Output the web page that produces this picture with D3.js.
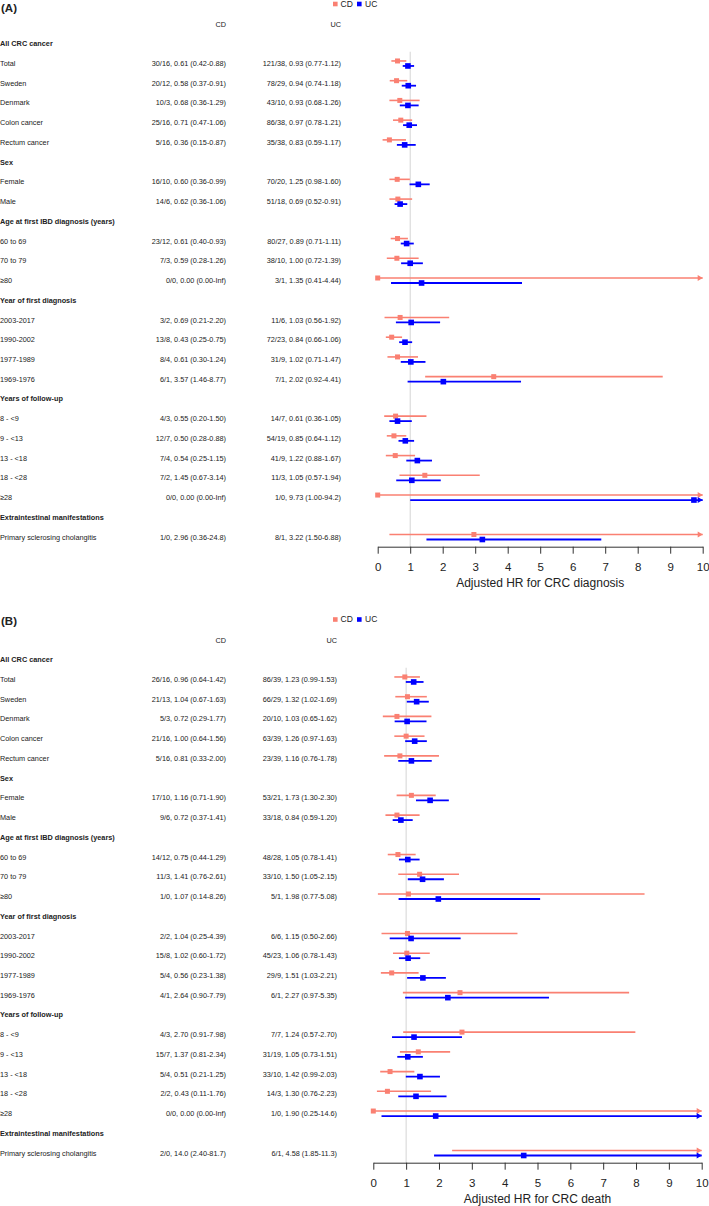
<!doctype html>
<html lang="en">
  <head>
    <meta charset="utf-8">
    <title>IBD and CRC forest plot</title>
    <script src="https://d3js.org/d3.v7.min.js"></script>
    <style>
      body { margin: 0; background: #fff; }
      text { font-family: "Liberation Sans", Arial, sans-serif; fill: #222; }
      .axis path, .axis line { stroke: #333; }
    </style>
  </head>
  <body>
    <script>

      var rowLabels = ["All CRC cancer", "Total", "Sweden", "Denmark", "Colon cancer", "Rectum cancer",
        "Sex", "Female", "Male",
        "Age at first IBD diagnosis (years)", "60 to 69", "70 to 79", "≥80",
        "Year of first diagnosis", "2003-2017", "1990-2002", "1977-1989", "1969-1976",
        "Years of follow-up", "8 - <9", "9 - <13", "13 - <18", "18 - <28", "≥28",
        "Extraintestinal manifestations", "Primary sclerosing cholangitis"];

      var headings = ["All CRC cancer", "Sex", "Age at first IBD diagnosis (years)",
        "Year of first diagnosis", "Years of follow-up", "Extraintestinal manifestations"];

      var xTicks = [0, 1, 2, 3, 4, 5, 6, 7, 8, 9, 10];

      // [events, HR, lower, upper]
      var cdDiagnosis = [
        ["30/16", 0.61, 0.42, 0.88], ["20/12", 0.58, 0.37, 0.91], ["10/3", 0.68, 0.36, 1.29],
        ["25/16", 0.71, 0.47, 1.06], ["5/16", 0.36, 0.15, 0.87],
        ["16/10", 0.60, 0.36, 0.99], ["14/6", 0.62, 0.36, 1.06],
        ["23/12", 0.61, 0.40, 0.93], ["7/3", 0.59, 0.28, 1.26], ["0/0", 0.00, 0.00, Infinity],
        ["3/2", 0.69, 0.21, 2.20], ["13/8", 0.43, 0.25, 0.75], ["8/4", 0.61, 0.30, 1.24], ["6/1", 3.57, 1.46, 8.77],
        ["4/3", 0.55, 0.20, 1.50], ["12/7", 0.50, 0.28, 0.88], ["7/4", 0.54, 0.25, 1.15], ["7/2", 1.45, 0.67, 3.14],
        ["0/0", 0.00, 0.00, Infinity],
        ["1/0", 2.96, 0.36, 24.8]];

      var ucDiagnosis = [
        ["121/38", 0.93, 0.77, 1.12], ["78/29", 0.94, 0.74, 1.18], ["43/10", 0.93, 0.68, 1.26],
        ["86/38", 0.97, 0.78, 1.21], ["35/38", 0.83, 0.59, 1.17],
        ["70/20", 1.25, 0.98, 1.60], ["51/18", 0.69, 0.52, 0.91],
        ["80/27", 0.89, 0.71, 1.11], ["38/10", 1.00, 0.72, 1.39], ["3/1", 1.35, 0.41, 4.44],
        ["11/6", 1.03, 0.56, 1.92], ["72/23", 0.84, 0.66, 1.06], ["31/9", 1.02, 0.71, 1.47], ["7/1", 2.02, 0.92, 4.41],
        ["14/7", 0.61, 0.36, 1.05], ["54/19", 0.85, 0.64, 1.12], ["41/9", 1.22, 0.88, 1.67], ["11/3", 1.05, 0.57, 1.94],
        ["1/0", 9.73, 1.00, 94.2],
        ["8/1", 3.22, 1.50, 6.88]];

      var cdDeath = [
        ["26/16", 0.96, 0.64, 1.42], ["21/13", 1.04, 0.67, 1.63], ["5/3", 0.72, 0.29, 1.77],
        ["21/16", 1.00, 0.64, 1.56], ["5/16", 0.81, 0.33, 2.00],
        ["17/10", 1.16, 0.71, 1.90], ["9/6", 0.72, 0.37, 1.41],
        ["14/12", 0.75, 0.44, 1.29], ["11/3", 1.41, 0.76, 2.61], ["1/0", 1.07, 0.14, 8.26],
        ["2/2", 1.04, 0.25, 4.39], ["15/8", 1.02, 0.60, 1.72], ["5/4", 0.56, 0.23, 1.38], ["4/1", 2.64, 0.90, 7.79],
        ["4/3", 2.70, 0.91, 7.98], ["15/7", 1.37, 0.81, 2.34], ["5/4", 0.51, 0.21, 1.25], ["2/2", 0.43, 0.11, 1.76],
        ["0/0", 0.00, 0.00, Infinity],
        ["2/0", 14.0, 2.40, 81.7]];

      var ucDeath = [
        ["86/39", 1.23, 0.99, 1.53], ["66/29", 1.32, 1.02, 1.69], ["20/10", 1.03, 0.65, 1.62],
        ["63/39", 1.26, 0.97, 1.63], ["23/39", 1.16, 0.76, 1.78],
        ["53/21", 1.73, 1.30, 2.30], ["33/18", 0.84, 0.59, 1.20],
        ["48/28", 1.05, 0.78, 1.41], ["33/10", 1.50, 1.05, 2.15], ["5/1", 1.98, 0.77, 5.08],
        ["6/6", 1.15, 0.50, 2.66], ["45/23", 1.06, 0.78, 1.43], ["29/9", 1.51, 1.03, 2.21], ["6/1", 2.27, 0.97, 5.35],
        ["7/7", 1.24, 0.57, 2.70], ["31/19", 1.05, 0.73, 1.51], ["33/10", 1.42, 0.99, 2.03], ["14/3", 1.30, 0.76, 2.23],
        ["1/0", 1.90, 0.25, 14.6],
        ["6/1", 4.58, 1.85, 11.3]];

      var cdColor = "#fa8072", ucColor = "#0000ff";

      var svg = d3.select("body").append("svg")
          .attr("width", 709)
          .attr("height", 1206);

      function fmt(v) {
        if (v === Infinity) return "Inf";
        return v >= 10 ? v.toFixed(1) : v.toFixed(2);
      }

      function rowText(d) {
        return d[0] + ", " + fmt(d[1]) + " (" + fmt(d[2]) + "-" + fmt(d[3]) + ")";
      }

      function drawPanel(cfg) {
        var g = svg.append("g").attr("transform", "translate(0," + cfg.top + ")");

        var x = d3.scaleLinear().domain([0, 10]).range(cfg.xRange);
        var y = d3.scalePoint().domain(["header"].concat(rowLabels)).range([24, 537]);
        var axisY = 546.7;
        var dataRows = rowLabels.filter(function(l){ return headings.indexOf(l) < 0; });

        g.append("text")
            .attr("x", 1).attr("y", cfg.labelY).attr("dy", "0.35em")
            .style("font-size", "11.5px").style("font-weight", "bold")
            .text(cfg.label);

        // legend
        var leg = g.append("g").attr("transform", "translate(0," + cfg.legendY + ")");
        leg.append("rect").attr("x", 333).attr("y", -2.3).attr("width", 4.6).attr("height", 4.6).attr("fill", cdColor);
        leg.append("text").attr("x", 340.5).attr("dy", "0.35em").style("font-size", "8.5px").text("CD");
        leg.append("rect").attr("x", 357).attr("y", -2.3).attr("width", 4.6).attr("height", 4.6).attr("fill", ucColor);
        leg.append("text").attr("x", 365).attr("dy", "0.35em").style("font-size", "8.5px").text("UC");

        // column headers
        g.append("text").attr("x", 226).attr("y", y("header")).attr("dy", "0.35em")
            .attr("text-anchor", "end").style("font-size", "7.3px").text("CD");
        g.append("text").attr("x", cfg.ucRight).attr("y", y("header")).attr("dy", "0.35em")
            .attr("text-anchor", "end").style("font-size", "7.3px").text("UC");

        g.selectAll(".rowlabel").data(rowLabels).enter()
          .append("text")
            .attr("class", "rowlabel")
            .attr("x", 0)
            .attr("y", function(d){ return y(d); })
            .attr("dy", "0.35em")
            .style("font-size", "7.3px")
            .style("font-weight", function(d){ return headings.indexOf(d) >= 0 ? "bold" : "normal"; })
            .text(String);

        g.selectAll(".cdtext").data(cfg.cd).enter()
          .append("text")
            .attr("x", 226)
            .attr("y", function(d, i){ return y(dataRows[i]); })
            .attr("dy", "0.35em").attr("text-anchor", "end")
            .style("font-size", "7.3px")
            .text(rowText);

        g.selectAll(".uctext").data(cfg.uc).enter()
          .append("text")
            .attr("x", cfg.ucRight)
            .attr("y", function(d, i){ return y(dataRows[i]); })
            .attr("dy", "0.35em").attr("text-anchor", "end")
            .style("font-size", "7.3px")
            .text(rowText);

        // reference line at HR = 1
        g.append("line")
            .attr("x1", x(1)).attr("x2", x(1))
            .attr("y1", y("All CRC cancer") + 8).attr("y2", axisY)
            .attr("stroke", "#d4d4d4").attr("stroke-width", 1);

        function series(data, offset, color, lw, size) {
          var s = g.append("g");
          data.forEach(function(d, i) {
            var yy = y(dataRows[i]) + offset;
            var x1 = x(Math.max(d[2], 0)), x2 = x(Math.min(d[3], 10));
            s.append("line")
                .attr("x1", x1).attr("x2", x2).attr("y1", yy).attr("y2", yy)
                .attr("stroke", color).attr("stroke-width", lw);
            if (d[3] > 10) {
              s.append("path")
                  .attr("d", "M" + (x2 - 5) + "," + (yy - 3) + "L" + x2 + "," + yy + "L" + (x2 - 5) + "," + (yy + 3) + "Z")
                  .attr("fill", color);
            }
            if (d[1] <= 10) {
              s.append("rect")
                  .attr("x", x(d[1]) - size / 2).attr("y", yy - size / 2)
                  .attr("width", size).attr("height", size)
                  .attr("fill", color);
            }
          });
        }
        series(cfg.cd, -2.5, cdColor, 1.6, 5);
        series(cfg.uc, 2.5, ucColor, 1.8, 5.6);

        var axis = g.append("g")
            .attr("class", "axis")
            .attr("transform", "translate(0," + axisY + ")")
            .call(d3.axisBottom(x).tickValues(xTicks).tickSize(7).tickSizeOuter(0).tickPadding(9));
        axis.selectAll("text").style("font-size", "11.5px").attr("fill", "#222");

        g.append("text")
            .attr("x", (cfg.xRange[0] + cfg.xRange[1]) / 2)
            .attr("y", axisY + 36).attr("dy", "0.35em")
            .attr("text-anchor", "middle")
            .style("font-size", "12px")
            .text(cfg.title);
      }

      drawPanel({top: 0, label: "(A)", labelY: 7.5, legendY: 4, xRange: [377.7, 702.7], ucRight: 341,
        cd: cdDiagnosis, uc: ucDiagnosis, title: "Adjusted HR for CRC diagnosis"});
      drawPanel({top: 616, label: "(B)", labelY: 4.5, legendY: 3.5, xRange: [373.3, 701.7], ucRight: 337,
        cd: cdDeath, uc: ucDeath, title: "Adjusted HR for CRC death"});

    </script>
  </body>
</html>
